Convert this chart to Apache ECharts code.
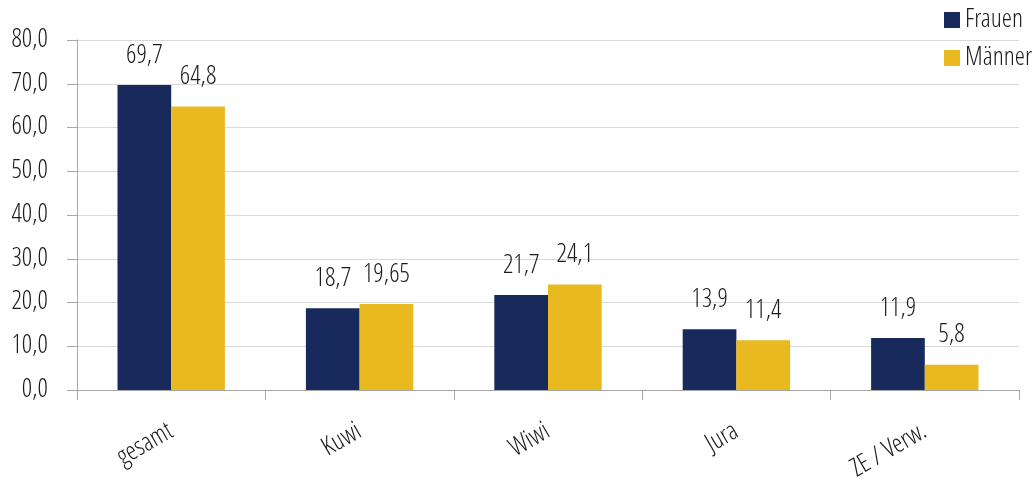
<!DOCTYPE html>
<html>
<head>
<meta charset="utf-8">
<script src="https://cdn.jsdelivr.net/npm/echarts@6/dist/echarts.min.js"></script>
<style>
html,body{margin:0;padding:0;background:#fff;}
#chart{width:1036px;height:485px;}
</style>
</head>
<body>
<div id="chart"></div>
<script>
const categories = ['gesamt', 'Kuwi', 'Wiwi', 'Jura', 'ZE / Verw.'];
const frauen = [69.7, 18.7, 21.7, 13.9, 11.9];
const maenner = [64.8, 19.65, 24.1, 11.4, 5.8];
const seriesNames = ['Frauen', 'Männer'];

const FONT = '"Open Sans Condensed Light", "Roboto Condensed", sans-serif';
const FS = 26;
const TXT = '#1a1a1a';
const fmt = v => String(v).replace('.', ',');

const chart = echarts.init(document.getElementById('chart'));
chart.setOption({
  animation: false,
  textStyle: { fontFamily: FONT },
  grid: { left: 77, right: 17, top: 40, bottom: 95, containLabel: false },
  legend: {
    orient: 'vertical',
    left: 939, top: 2,
    itemWidth: 16, itemHeight: 16, itemGap: 12,
    icon: 'rect',
    textStyle: { fontFamily: FONT, fontSize: FS, color: TXT, lineHeight: 24 },
    data: seriesNames
  },
  xAxis: {
    type: 'category',
    data: categories,
    axisLine: { lineStyle: { color: '#a6a6a6', width: 1 } },
    axisTick: { show: true, length: 10, lineStyle: { color: '#a6a6a6' } },
    axisLabel: { rotate: 30, margin: 40, fontFamily: FONT, fontSize: FS, color: TXT }
  },
  yAxis: {
    type: 'value',
    min: 0, max: 80, interval: 10,
    axisLine: { show: true, lineStyle: { color: '#a6a6a6' } },
    axisTick: { show: true, length: 10, inside: false, lineStyle: { color: '#a6a6a6' } },
    splitLine: { lineStyle: { color: '#d9d9d9' } },
    axisLabel: { margin: 29, fontFamily: FONT, fontSize: FS, color: TXT,
      formatter: v => v.toFixed(1).replace('.', ',') }
  },
  series: [
    { name: seriesNames[0], type: 'bar', data: frauen, barGap: '0%', barCategoryGap: '43%',
      itemStyle: { color: '#182a5b' },
      label: { show: true, position: 'top', distance: 16, fontFamily: FONT, fontSize: FS, color: TXT,
        formatter: p => fmt(p.value) } },
    { name: seriesNames[1], type: 'bar', data: maenner, barGap: '0%', barCategoryGap: '43%',
      itemStyle: { color: '#e9b920' },
      label: { show: true, position: 'top', distance: 16, fontFamily: FONT, fontSize: FS, color: TXT,
        formatter: p => fmt(p.value) } }
  ]
});
</script>
</body>
</html>
